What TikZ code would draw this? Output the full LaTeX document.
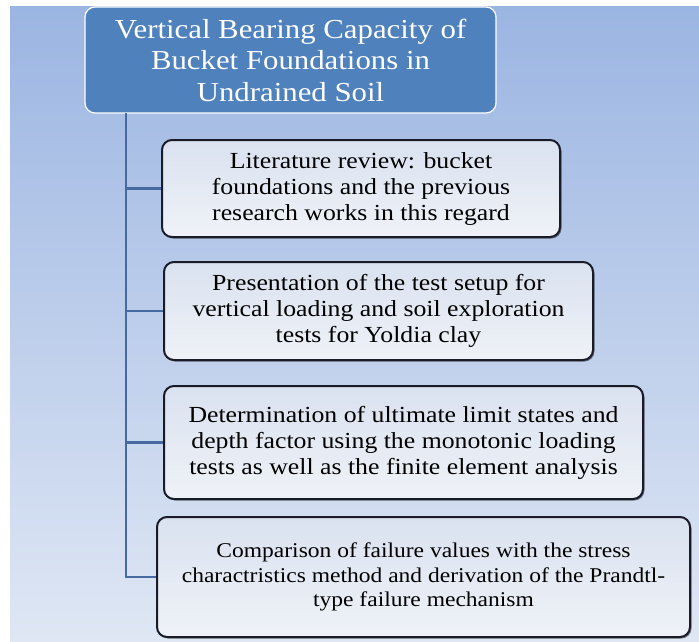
\documentclass[tikz,border=0pt]{standalone}
\usepackage{fontspec}
\setmainfont{Liberation Serif}[FakeStretch=1.12]
\usetikzlibrary{shadows}
\definecolor{bgtop}{RGB}{155,181,226}
\definecolor{bgbot}{RGB}{223,231,244}
\definecolor{titlefill}{RGB}{79,129,189}
\definecolor{trunkcol}{RGB}{70,105,160}
\definecolor{boxtop}{RGB}{218,226,240}
\definecolor{boxbot}{RGB}{239,242,247}
\definecolor{boxline}{RGB}{25,28,40}
\begin{document}
\begin{tikzpicture}[x=1pt,y=-1pt,
  titlebox/.style={rectangle,rounded corners=10pt,fill=titlefill,draw=white,line width=1.2pt,
    text=white,align=center,inner sep=0pt,font=\fontsize{27.5}{31.5}\selectfont},
  stepbox/.style={rectangle,rounded corners=10pt,top color=boxtop,bottom color=boxbot,
    draw=boxline,line width=2pt,align=center,inner sep=0pt,
    font=\fontsize{23}{26}\selectfont,
    drop shadow={shadow xshift=1.5pt,shadow yshift=-1.5pt,fill=black,opacity=0.45}},
  trunk/.style={draw=trunkcol,line width=2.2pt}]
\useasboundingbox (0,0) rectangle (699,641);
\fill[white] (0,0) rectangle (699,641);
\shade[top color=bgtop,bottom color=bgbot] (10,6) rectangle (699,641);

\node[titlebox,minimum width=411pt,minimum height=106pt] (title) at (290.5,60)
  {Vertical Bearing Capacity of\\Bucket Foundations in\\Undrained Soil};

\node[stepbox,minimum width=398pt,minimum height=97pt] (b1) at (361,188.5)
  {Literature review: bucket\\foundations and the previous\\research works in this regard};
\node[stepbox,minimum width=429pt,minimum height=98pt] (b2) at (378.5,311)
  {Presentation of the test setup for\\vertical loading and soil exploration\\tests for Yoldia clay};
\node[stepbox,minimum width=479pt,minimum height=113pt] (b3) at (403.5,442.5)
  {Determination of ultimate limit states and\\depth factor using the monotonic loading\\tests as well as the finite element analysis};
\node[stepbox,minimum width=533pt,minimum height=120pt,font=\fontsize{21}{24.5}\selectfont] (b4) at (423.5,577)
  {Comparison of failure values with the stress\\charactristics method and derivation of the Prandtl-\\type failure mechanism};

\coordinate (t0) at (126,113);
\draw[trunk] (t0) |- (b4.west);
\draw[trunk] (t0 |- b1.west) -- (b1.west);
\draw[trunk] (t0 |- b2.west) -- (b2.west);
\draw[trunk] (t0 |- b3.west) -- (b3.west);
\end{tikzpicture}
\end{document}
